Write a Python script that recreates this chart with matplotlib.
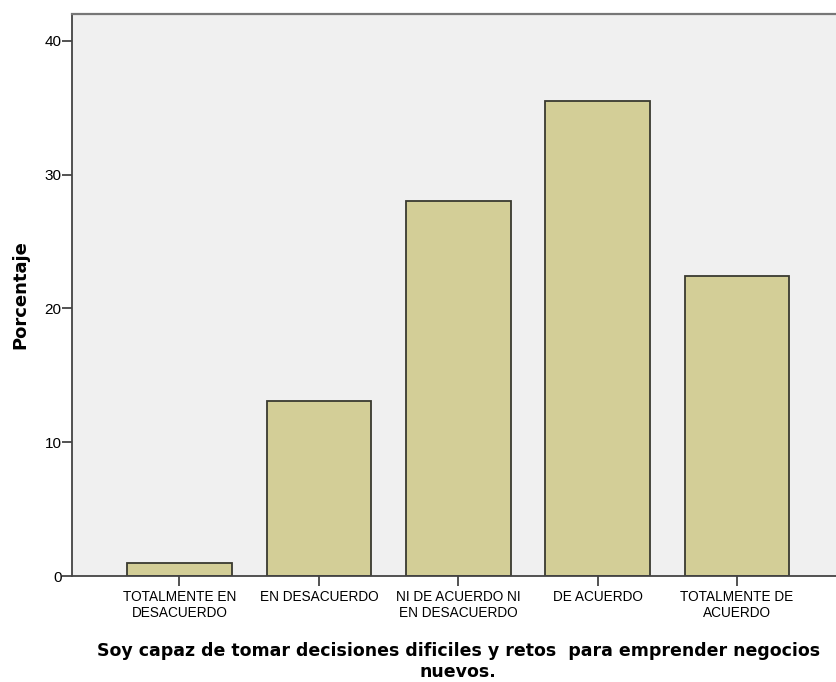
import numpy as np
import matplotlib.pyplot as plt

plt.rcParams['font.family'] = ['Liberation Sans', 'DejaVu Sans']

categories = ['TOTALMENTE EN\nDESACUERDO', 'EN DESACUERDO', 'NI DE ACUERDO NI\nEN DESACUERDO',
              'DE ACUERDO', 'TOTALMENTE DE\nACUERDO']
porcentajes = [1.0, 13.1, 28.0, 35.5, 22.4]
yticks = [0, 10, 20, 30, 40]

fig = plt.figure(figsize=(8.36, 6.82), dpi=100)
ax = fig.add_axes([72 / 836, 106 / 682, 1 - 72 / 836 + 0.01, 562 / 682])
ax.set_facecolor('#F0F0F0')

x = np.arange(len(categories))
ax.bar(x, porcentajes, width=0.75, color='#D3CE97', edgecolor='#3a3a30', linewidth=1.3, zorder=2)

ax.set_xlim(-0.771, 4.77)
ax.set_ylim(0, 42.0)
ax.set_yticks(yticks)
ax.set_xticks(x)
ax.set_xticklabels(categories, fontsize=9.8, linespacing=1.15)
ax.tick_params(axis='y', length=7, width=1.3, color='#444444', labelsize=11, pad=0.5)
ax.tick_params(axis='x', length=7, width=1.3, color='#444444', pad=3)

for side in ['left', 'bottom']:
    ax.spines[side].set_color('#444444')
    ax.spines[side].set_linewidth(1.3)
ax.spines['top'].set_color('#777777')
ax.spines['top'].set_linewidth(1.6)
ax.spines['right'].set_visible(False)

# titulos de los ejes
fig.text(20 / 836, 1 - 295 / 682, 'Porcentaje', rotation=90, ha='center', va='center',
         fontsize=13, fontweight='bold', family='DejaVu Sans')
ax.set_xlabel('Soy capaz de tomar decisiones dificiles y retos  para emprender negocios\nnuevos.',
              fontsize=12.5, fontweight='bold', family='DejaVu Sans', labelpad=16, linespacing=1.25)

fig.savefig('out.png', dpi=100)
